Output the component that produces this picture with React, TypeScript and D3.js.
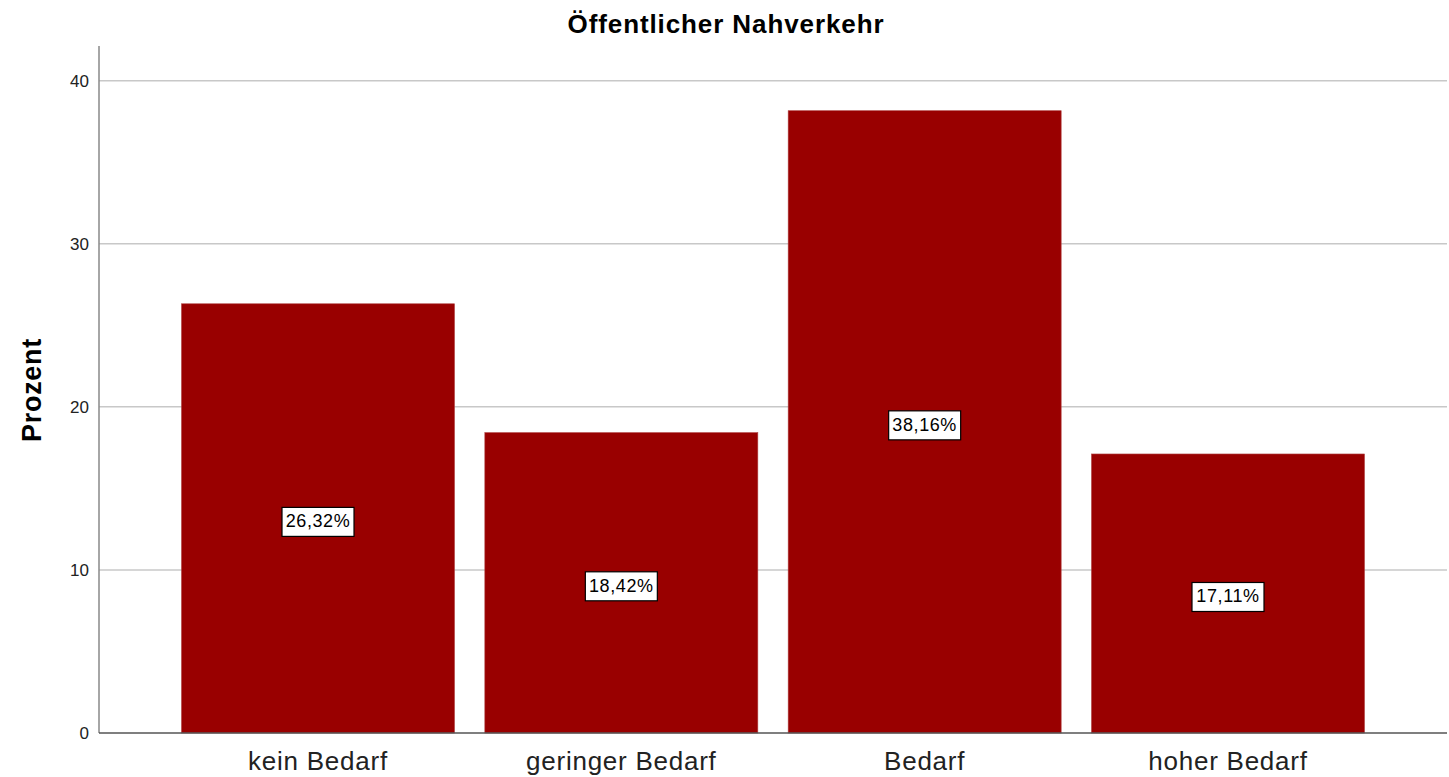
import React from "react";
import * as d3 from "d3";

const categories = ["kein Bedarf", "geringer Bedarf", "Bedarf", "hoher Bedarf"];
const values = [26.32, 18.42, 38.16, 17.11];
const labels = ["26,32%", "18,42%", "38,16%", "17,11%"];
const yTicks = [0, 10, 20, 30, 40];

const W = 1449;
const H = 777;
const FONT = "'Liberation Sans', Arial, sans-serif";

export default function App() {
  const left = 99, right = 1447, top = 46, bottom = 733;
  const x = d3.scaleBand<string>().domain(categories).range([left, right]).paddingInner(0.1).paddingOuter(0.272);
  const y = d3.scaleLinear().domain([0, 40]).range([bottom, 80.7]);
  return (
    <svg width={W} height={H} style={{ position: "absolute", left: 0, top: 0, background: "#fff" }} fontFamily={FONT}>
      <text x={726} y={33} textAnchor="middle" fontSize={26} fontWeight="bold" letterSpacing={0.9} fill="#000">Öffentlicher Nahverkehr</text>
      {yTicks.filter(t => t > 0).map(t => (
        <line key={t} x1={left} x2={right} y1={y(t)} y2={y(t)} stroke="#c8c8c8" strokeWidth={1.5} />
      ))}
      {yTicks.map(t => (
        <text key={"l" + t} x={89} y={y(t) + 6} textAnchor="end" fontSize={17} fill="#222">{t}</text>
      ))}
      {categories.map((c, i) => (
        <rect key={c} x={x(c)} y={y(values[i])} width={x.bandwidth()} height={y(0) - y(values[i])} fill="#990000" stroke="#b04040" strokeWidth={0.6} />
      ))}
      <line x1={left} x2={left} y1={top} y2={bottom} stroke="#888" strokeWidth={1.5} />
      <line x1={left} x2={right} y1={bottom} y2={bottom} stroke="#555" strokeWidth={1.5} />
      {categories.map(c => (
        <text key={"c" + c} x={(x(c) as number) + x.bandwidth() / 2} y={770} textAnchor="middle" fontSize={26} letterSpacing={0.75} fill="#222">{c}</text>
      ))}
      {categories.map((c, i) => {
        const cx = (x(c) as number) + x.bandwidth() / 2;
        const cy = y(values[i] / 2) + 3;
        return (
          <g key={"v" + c}>
            <rect x={cx - 36} y={cy - 14} width={72} height={29} fill="#fff" stroke="#000" strokeWidth={1.2} />
            <text x={cx} y={cy + 6} textAnchor="middle" fontSize={18} letterSpacing={0.6} fill="#000">{labels[i]}</text>
          </g>
        );
      })}
      <text transform={`translate(41,${390}) rotate(-90)`} textAnchor="middle" fontSize={27} fontWeight="bold" letterSpacing={0.7} fill="#000">Prozent</text>
    </svg>
  );
}
